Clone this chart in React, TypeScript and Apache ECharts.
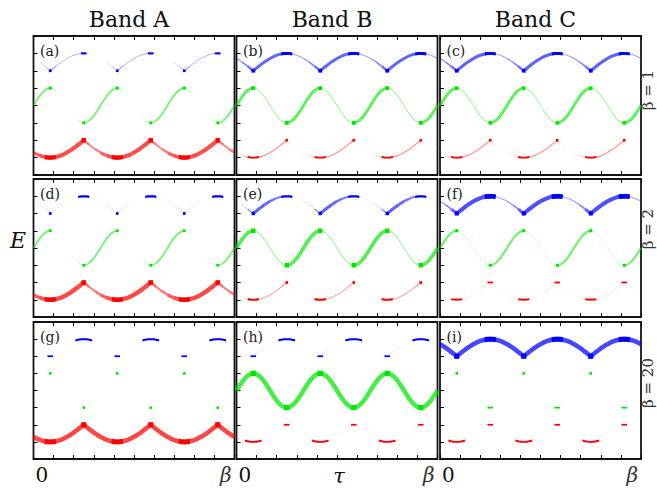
import React, { useEffect, useRef } from "react";
import * as echarts from "echarts";

// ---------- text ----------
const BAND_TITLES = ["Band A", "Band B", "Band C"];
const BETA_LABELS = ["β = 1", "β = 2", "β = 20"];
const PANEL_TAGS = ["(a)", "(b)", "(c)", "(d)", "(e)", "(f)", "(g)", "(h)", "(i)"];
const X_START_LABEL = "0";
const X_END_LABEL = "β";
const X_NAME = "τ";
const Y_NAME = "E";

// ---------- axes ----------
const TAU_MAX = 10; // β in tick units
const E_MAX = 8;
const PERIODS = 3;
const SAMPLES = 24; // samples per period

// ---------- energies over one period (25 samples, phase 0..1) ----------
const BLUE_E = [6.707, 6.609, 6.5, 6.383, 6.259, 6.131, 6.0, 6.131, 6.259, 6.383, 6.5, 6.609, 6.707, 6.793, 6.866, 6.924, 6.966, 6.991, 7.0, 6.991, 6.966, 6.924, 6.866, 6.793, 6.707];
const GREEN_E = [4.0, 4.259, 4.5, 4.707, 4.866, 4.966, 5.0, 4.966, 4.866, 4.707, 4.5, 4.259, 4.0, 3.741, 3.5, 3.293, 3.134, 3.034, 3.0, 3.034, 3.134, 3.293, 3.5, 3.741, 4.0];
const RED_E = [1.293, 1.207, 1.134, 1.076, 1.034, 1.009, 1.0, 1.009, 1.034, 1.076, 1.134, 1.207, 1.293, 1.391, 1.5, 1.617, 1.741, 1.869, 2.0, 1.869, 1.741, 1.617, 1.5, 1.391, 1.293];

// ---------- weights (12 per period) for panels a..i ----------
const BLUE_W = [
  [0, 0.15, 0.3, 0.35, 0.3, 0.28, 0.28, 0.3, 0.35, 0.12, 0, 0],
  [0.4, 0.5, 0.62, 0.7, 0.7, 0.7, 0.7, 0.7, 0.68, 0.38, 0.33, 0.35],
  [0.4, 0.5, 0.62, 0.72, 0.72, 0.72, 0.72, 0.72, 0.7, 0.38, 0.33, 0.35],
  [0.06, 0.12, 0.18, 0.18, 0.12, 0.06, 0, 0, 0, 0, 0, 0.03],
  [0.12, 0.22, 0.45, 0.72, 0.72, 0.68, 0.62, 0.55, 0.45, 0.12, 0.05, 0.07],
  [0.4, 0.5, 0.7, 0.85, 0.85, 0.85, 0.85, 0.85, 0.85, 0.4, 0.33, 0.35],
  [0, 0, 0, 0, 0, 0, 0, 0, 0, 0, 0, 0],
  [0, 0, 0.08, 0.16, 0.12, 0.06, 0.02, 0, 0, 0, 0, 0],
  [0.9, 0.9, 0.9, 0.9, 0.9, 0.9, 0.9, 0.9, 0.9, 0.9, 0.9, 0.9],
];
const GREEN_W = [
  [0.55, 0.55, 0.55, 0.3, 0.15, 0, 0, 0.1, 0.3, 0.5, 0.55, 0.55],
  [0.72, 0.72, 0.72, 0.35, 0.35, 0.35, 0.35, 0.35, 0.38, 0.7, 0.72, 0.72],
  [0.72, 0.72, 0.72, 0.35, 0.35, 0.35, 0.35, 0.35, 0.38, 0.7, 0.72, 0.72],
  [0.55, 0.55, 0.55, 0.15, 0.04, 0, 0, 0.08, 0.25, 0.5, 0.55, 0.55],
  [0.8, 0.8, 0.8, 0.38, 0.35, 0.35, 0.35, 0.35, 0.4, 0.78, 0.8, 0.8],
  [0.6, 0.6, 0.6, 0.2, 0.18, 0.18, 0.18, 0.2, 0.25, 0.55, 0.6, 0.6],
  [0, 0, 0, 0, 0, 0, 0, 0, 0, 0.12, 0.05, 0],
  [0.9, 0.9, 0.9, 0.9, 0.9, 0.9, 0.9, 0.9, 0.9, 0.9, 0.9, 0.9],
  [0, 0.06, 0.12, 0, 0, 0, 0, 0, 0, 0, 0, 0],
];
const RED_W = [
  [0.72, 0.8, 0.85, 0.85, 0.85, 0.85, 0.85, 0.85, 0.85, 0.6, 0.52, 0.6],
  [0.1, 0.25, 0.42, 0.42, 0.4, 0.4, 0.4, 0.4, 0.4, 0.12, 0.06, 0.06],
  [0.08, 0.22, 0.4, 0.42, 0.4, 0.4, 0.4, 0.4, 0.4, 0.12, 0.05, 0.05],
  [0.75, 0.82, 0.88, 0.88, 0.88, 0.88, 0.88, 0.88, 0.88, 0.62, 0.55, 0.62],
  [0, 0.05, 0.3, 0.35, 0.32, 0.32, 0.32, 0.35, 0.38, 0.15, 0.05, 0],
  [0.05, 0.06, 0.12, 0.15, 0.12, 0.1, 0.1, 0.14, 0.18, 0.08, 0.04, 0.03],
  [0.9, 0.9, 0.9, 0.9, 0.9, 0.9, 0.9, 0.9, 0.9, 0.9, 0.9, 0.9],
  [0, 0, 0, 0, 0, 0, 0.04, 0.08, 0.12, 0.06, 0.02, 0],
  [0, 0, 0, 0, 0, 0, 0, 0, 0, 0, 0, 0],
];

// ---------- extremum marks: [halfExtent1, weight1, halfExtent2, weight2] (quarter / three-quarter phase) ----------
const BLUE_M = [
  [0, 0.2, 1, 0.25], [0, 0.5, 2, 0.45], [0, 0.5, 2, 0.45],
  [0, 0.2, 2, 0.25], [0, 0.4, 2, 0.25], [0, 0.6, 2, 0.9],
  [1, 0.15, 3, 0.2], [1, 0.15, 3, 0.2], [0, 0.9, 2, 1.0],
];
const GREEN_M = [
  [0, 0.3, 0, 0.25], [0, 0.5, 0, 0.5], [0, 0.45, 0, 0.45],
  [0, 0.2, 0, 0.25], [0, 0.7, 0, 0.7], [0, 0.3, 0, 0.3],
  [0, 0.15, 0, 0.15], [0, 0.95, 0, 0.95], [0, 0.15, 1, 0.15],
];
const RED_M = [
  [2, 0.75, 0, 0.7], [2, 0.2, 0, 0.2], [2, 0.2, 0, 0.2],
  [2, 0.85, 0, 0.75], [2, 0.25, 0, 0.2], [2, 0.2, 1, 0.15],
  [2, 1.0, 0, 0.9], [3, 0.2, 1, 0.15], [3, 0.2, 1, 0.15],
];

const BAND_RGB = [
  [0, 0, 255],
  [0, 230, 0],
  [255, 0, 0],
];

// ---------- layout ----------
const COL_LEFT = [33.5, 236.5, 440];
const COL_W = 201;
const ROW_TOP = [36, 179, 322];
const ROW_H = [139, 138, 137];
const SERIF = "'DejaVu Serif', 'Liberation Serif', serif";

type Run = { ks: number[]; w: number; mark: boolean; dot: boolean; flat: boolean; band: number };

const ENERGIES = [BLUE_E, GREEN_E, RED_E];
const WEIGHTS = [BLUE_W, GREEN_W, RED_W];
const MARKS = [BLUE_M, GREEN_M, RED_M];

const TOTAL = SAMPLES * PERIODS;
const tauOf = (k: number) => (k * TAU_MAX) / TOTAL;
const eOf = (band: number, k: number) => ENERGIES[band][k % SAMPLES];

function buildRuns(panel: number): Run[] {
  const lines: Run[] = [];
  const marks: Run[] = [];
  for (let b = 0; b < 3; b++) {
    const W = WEIGHTS[b][panel];
    let cur: Run | null = null;
    for (let k = 0; k < TOTAL; k++) {
      const w = W[Math.floor((k % SAMPLES) / 2)];
      if (w <= 0) {
        cur = null;
        continue;
      }
      if (cur && cur.w === w) cur.ks.push(k + 1);
      else {
        cur = { ks: [k, k + 1], w, mark: false, dot: false, flat: false, band: b };
        lines.push(cur);
      }
    }
    const M = MARKS[b][panel];
    for (let p = 0; p < PERIODS; p++) {
      const ext: [number, number, number][] = [
        [SAMPLES / 4 + SAMPLES * p, M[0], M[1]],
        [(3 * SAMPLES) / 4 + SAMPLES * p, M[2], M[3]],
      ];
      ext.forEach(([kc, n, mw]) => {
        if (n < 0) return;
        if (n === 0) marks.push({ ks: [kc], w: mw, mark: true, dot: true, flat: false, band: b });
        else if (n === 1) marks.push({ ks: [kc - 1, kc, kc + 1], w: mw, mark: true, dot: false, flat: true, band: b });
        else {
          const ks: number[] = [];
          for (let k = Math.max(0, kc - n); k <= Math.min(TOTAL, kc + n); k++) ks.push(k);
          marks.push({ ks, w: mw, mark: true, dot: false, flat: false, band: b });
        }
      });
    }
  }
  return lines.concat(marks);
}

export default function App() {
  const ref = useRef<HTMLDivElement>(null);
  useEffect(() => {
    if (!ref.current) return;
    const chart = echarts.init(ref.current, undefined, { renderer: "svg" });
    const grids: any[] = [];
    const xAxes: any[] = [];
    const yAxes: any[] = [];
    const series: any[] = [];
    const graphic: any[] = [];
    const tick = { show: true, inside: true, length: 4, lineStyle: { color: "#000", width: 1 } };

    for (let r = 0; r < 3; r++) {
      for (let c = 0; c < 3; c++) {
        const i = r * 3 + c;
        grids.push({
          left: COL_LEFT[c],
          top: ROW_TOP[r],
          width: COL_W,
          height: ROW_H[r],
          show: true,
          borderColor: "#151515",
          borderWidth: 1.8,
          backgroundColor: "transparent",
        });
        ["bottom", "top"].forEach((pos) =>
          xAxes.push({
            type: "value",
            gridIndex: i,
            position: pos,
            min: 0,
            max: TAU_MAX,
            interval: 1,
            axisLine: { show: false },
            axisTick: tick,
            axisLabel: { show: false },
            splitLine: { show: false },
          })
        );
        yAxes.push({
          type: "value",
          gridIndex: i,
          min: 0,
          max: E_MAX,
          interval: 1,
          axisLine: { show: false },
          axisTick: tick,
          axisLabel: { show: false },
          splitLine: { show: false },
        });
        const runs = buildRuns(i);
        series.push({
          type: "custom",
          coordinateSystem: "cartesian2d",
          xAxisIndex: i * 2,
          yAxisIndex: i,
          silent: true,
          data: runs.map((run, idx) => [tauOf(run.ks[0]), eOf(run.band, run.ks[0]), idx]),
          renderItem: (params: any, api: any) => {
            const run = runs[params.dataIndex];
            const [R, G, B] = BAND_RGB[run.band];
            if (run.dot) {
              const p = api.coord([tauOf(run.ks[0]), eOf(run.band, run.ks[0])]);
              const s = 2 + 3.5 * run.w;
              return {
                type: "rect",
                shape: { x: p[0] - s / 2, y: p[1] - s / 2, width: s, height: s },
                style: { fill: `rgb(${R},${G},${B})`, stroke: "none" },
              };
            }
            if (run.mark) {
              const kc = run.ks[Math.floor(run.ks.length / 2)];
              const pts = run.flat
                ? [api.coord([tauOf(run.ks[0]), eOf(run.band, kc)]), api.coord([tauOf(run.ks[run.ks.length - 1]), eOf(run.band, kc)])]
                : run.ks.map((k) => api.coord([tauOf(k), eOf(run.band, k)]));
              return {
                type: "polyline",
                shape: { points: pts },
                style: { fill: "none", stroke: `rgb(${R},${G},${B})`, lineWidth: 1.2 + 3.8 * run.w, lineCap: "butt", lineJoin: "round" },
              };
            }
            const pts = run.ks.map((k) => api.coord([tauOf(k), eOf(run.band, k)]));
            const lw = 0.5 + 5 * run.w * run.w;
            const a = 0.78 * Math.pow(run.w, 0.7);
            return {
              type: "polyline",
              shape: { points: pts },
              style: { fill: "none", stroke: `rgba(${R},${G},${B},${a.toFixed(3)})`, lineWidth: lw, lineCap: "butt", lineJoin: "round" },
            };
          },
        });
        graphic.push({
          type: "text",
          x: COL_LEFT[c] + 6.5,
          y: ROW_TOP[r] + 15,
          style: { text: PANEL_TAGS[i], font: `14px ${SERIF}`, fill: "#222", align: "left", verticalAlign: "middle" },
        });
      }
    }
    for (let c = 0; c < 3; c++) {
      graphic.push({
        type: "text",
        x: COL_LEFT[c] + COL_W / 2 - 5,
        y: 19,
        style: { text: BAND_TITLES[c], font: `22px ${SERIF}`, fill: "#111", align: "center", verticalAlign: "middle" },
      });
      graphic.push({
        type: "text",
        x: COL_LEFT[c] + 2,
        y: 475,
        style: { text: X_START_LABEL, font: `20px ${SERIF}`, fill: "#111", align: "left", verticalAlign: "middle" },
      });
      graphic.push({
        type: "text",
        x: COL_LEFT[c] + COL_W - 3,
        y: 475,
        style: { text: X_END_LABEL, font: `italic 20px ${SERIF}`, fill: "#333", align: "right", verticalAlign: "middle" },
      });
    }
    const rowLabelY = [90, 229, 383];
    for (let r = 0; r < 3; r++) {
      graphic.push({
        type: "text",
        x: 648,
        y: rowLabelY[r],
        rotation: Math.PI / 2,
        style: { text: BETA_LABELS[r], font: `15px ${SERIF}`, fill: "#333", align: "center", verticalAlign: "middle" },
      });
    }
    graphic.push({
      type: "text",
      x: 339,
      y: 476,
      style: { text: X_NAME, font: `italic 21px ${SERIF}`, fill: "#111", align: "center", verticalAlign: "middle" },
    });
    graphic.push({
      type: "text",
      x: 18,
      y: 240,
      style: { text: Y_NAME, font: `italic 22px ${SERIF}`, fill: "#111", align: "center", verticalAlign: "middle" },
    });

    chart.setOption({
      animation: false,
      backgroundColor: "#fff",
      grid: grids,
      xAxis: xAxes,
      yAxis: yAxes,
      series,
      graphic,
    });
    return () => chart.dispose();
  }, []);
  return (
    <div
      ref={ref}
      style={{ position: "fixed", left: 0, top: 0, width: 657, height: 488, background: "#fff" }}
    />
  );
}
